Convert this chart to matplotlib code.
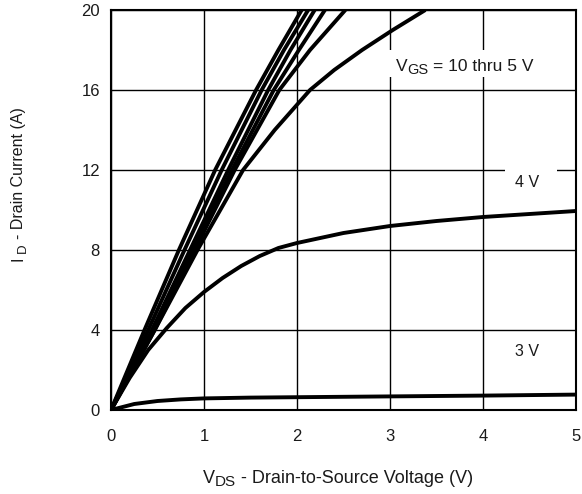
import matplotlib
matplotlib.use("Agg")
import matplotlib.pyplot as plt
from matplotlib.transforms import IdentityTransform
from matplotlib.patches import Rectangle

plt.rcParams['font.family'] = ['Liberation Sans', 'DejaVu Sans']

# Steep curves (VGS = 10 thru 5 V): drain voltage read at given current levels
I_levels = [0, 4, 8, 12, 16, 18, 20]
V_10 = [0, 0.36, 0.73, 1.12, 1.56, 1.80, 2.05]
V_9 = [0, 0.40, 0.79, 1.19, 1.62, 1.86, 2.12]
V_8 = [0, 0.44, 0.85, 1.26, 1.69, 1.93, 2.19]
V_7 = [0, 0.46, 0.88, 1.30, 1.75, 2.02, 2.30]
V_6 = [0, 0.47, 0.90, 1.33, 1.81, 2.14, 2.52]

I_5 = [0, 4, 8, 12, 14, 16, 17, 18, 19, 20]
V_5 = [0, 0.47, 0.93, 1.42, 1.76, 2.14, 2.40, 2.70, 3.03, 3.38]

# 4 V curve
V_4 = [0, 0.2, 0.4, 0.6, 0.8, 1.0, 1.2, 1.4, 1.6, 1.8, 2.0, 2.5, 3.0, 3.5, 4.0, 4.5, 5.0]
I_4 = [0, 1.6, 3.0, 4.1, 5.1, 5.9, 6.6, 7.2, 7.7, 8.1, 8.35, 8.85, 9.2, 9.45, 9.65, 9.8, 9.95]

# 3 V curve
V_3 = [0, 0.1, 0.25, 0.5, 0.75, 1, 1.5, 2, 3, 4, 5]
I_3 = [0, 0.12, 0.3, 0.45, 0.53, 0.58, 0.62, 0.64, 0.68, 0.72, 0.77]

x_ticks = [0, 1, 2, 3, 4, 5]
y_ticks = [0, 4, 8, 12, 16, 20]

W, H = 582, 494
fig = plt.figure(figsize=(W/100, H/100), dpi=100)
ax = fig.add_axes([111/W, 1-410/H, (576-111)/W, 400/H])

ax.set_xlim(0, 5)
ax.set_ylim(0, 20)
ax.set_xticks(x_ticks)
ax.set_yticks(y_ticks)
ax.grid(True, color='black', linewidth=1.0, zorder=1)
ax.set_axisbelow(True)
ax.tick_params(length=0, labelsize=12, labelcolor='#1a1a1a')
ax.tick_params(axis='x', pad=14)
ax.tick_params(axis='y', pad=8)
for s in ax.spines.values():
    s.set_linewidth(1.5)
    s.set_zorder(5)

lw = 2.8
for V in (V_10, V_9, V_8, V_7, V_6):
    ax.plot(V, I_levels, color='black', lw=lw, solid_capstyle='butt', zorder=3)
ax.plot(V_5, I_5, color='black', lw=lw, solid_capstyle='butt', zorder=3)
ax.plot(V_4, I_4, color='black', lw=lw, solid_capstyle='butt', zorder=3)
ax.plot(V_3, I_3, color='black', lw=lw, solid_capstyle='butt', zorder=3)

# white boxes behind labels (interrupting the grid)
ax.add_patch(Rectangle((2.96, 16.65), 1.70, 1.35, facecolor='white', edgecolor='none', zorder=2))
ax.add_patch(Rectangle((4.24, 10.9), 0.56, 1.6, facecolor='white', edgecolor='none', zorder=2))

ax.text(4.47, 11.4, "4 V", fontsize=11.5, color='#1a1a1a', ha='center', va='center', zorder=4)
ax.text(4.47, 2.9, "3 V", fontsize=11.5, color='#1a1a1a', ha='center', va='center', zorder=4)

renderer = fig.canvas.get_renderer()


def measure(s, size):
    t = fig.text(0, 0, s, fontsize=size)
    w = t.get_window_extent(renderer).width
    t.remove()
    return w


def space_w(size):
    return measure("a a", size) - measure("aa", size)


def pieces_text(cx, base, pieces, rotation=0):
    """cx: centre along the text direction (px), base: baseline position (px), display coords."""
    widths = []
    for s, size, dy, gap in pieces:
        widths.append((space_w(size) if gap else 0) + measure(s, size))
    total = sum(widths)
    pos = -total / 2
    for (s, size, dy, gap), w in zip(pieces, widths):
        start = pos + (space_w(size) if gap else 0)
        if rotation == 0:
            x, y = cx + start, base + dy
        else:
            x, y = base - dy, cx + start
        fig.text(x, y, s, fontsize=size, color='#1a1a1a', transform=IdentityTransform(),
                 ha='left', va='baseline', rotation=rotation, rotation_mode='anchor', zorder=6)
        pos += w


# VGS label
pieces_text(464.5, H - 71, [("V", 12.5, 0, False), ("GS", 10.5, -3, False),
                            ("= 10 thru 5 V", 12.5, 0, True)])
# x label
pieces_text(338, H - 483, [("V", 13, 0, False), ("DS", 11, -3, False),
                           ("- Drain-to-Source Voltage (V)", 13, 0, True)])
# y label (rotated)
pieces_text(H - 184, 23, [("I", 11.5, 0, False), ("D", 9.5, -3, True),
                          ("- Drain Current (A)", 11.5, 0, True)], rotation=90)

fig.savefig("out.png", dpi=100)
